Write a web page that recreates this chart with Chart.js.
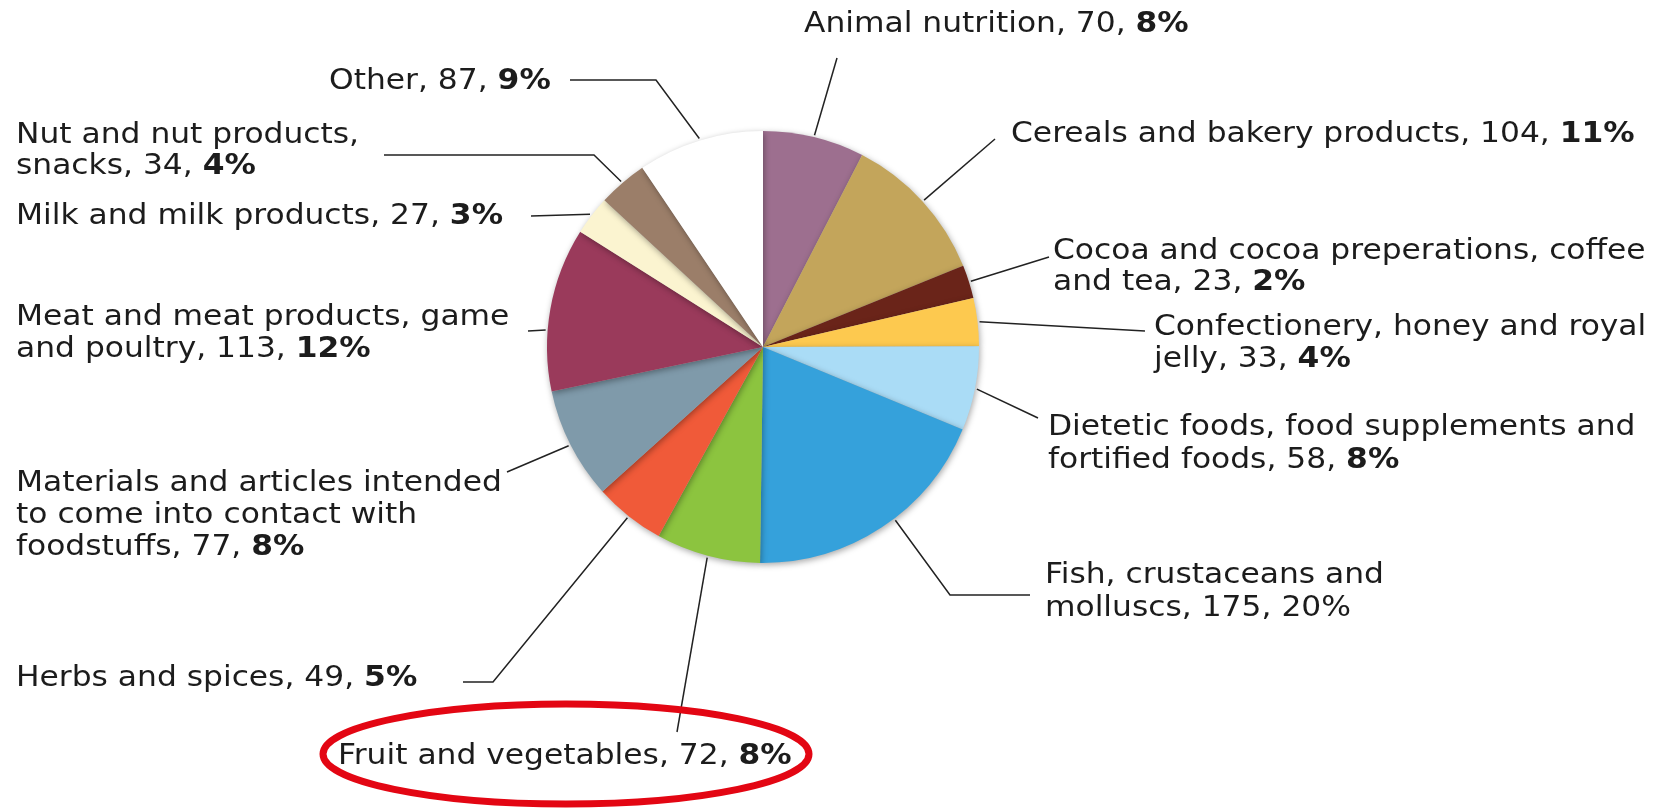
<!DOCTYPE html>
<html>
<head>
<meta charset="utf-8">
<script src="https://cdn.jsdelivr.net/npm/chart.js@4"></script>
<style>
  body { margin: 0; background: #fff; }
  canvas { display: block; }
</style>
</head>
<body>
<canvas id="pieChart" width="1655" height="808"></canvas>
<script>
// notifications per product category
var categoryLines = [
  ['Animal nutrition'],
  ['Cereals and bakery products'],
  ['Cocoa and cocoa preperations, coffee', 'and tea'],
  ['Confectionery, honey and royal', 'jelly'],
  ['Dietetic foods, food supplements and', 'fortified foods'],
  ['Fish, crustaceans and', 'molluscs'],
  ['Fruit and vegetables'],
  ['Herbs and spices'],
  ['Materials and articles intended', 'to come into contact with', 'foodstuffs'],
  ['Meat and meat products, game', 'and poultry'],
  ['Milk and milk products'],
  ['Nut and nut products,', 'snacks'],
  ['Other']
];
var counts = [70, 104, 23, 33, 58, 175, 72, 49, 77, 113, 27, 34, 87];
var shares = [8, 11, 2, 4, 8, 20, 8, 5, 8, 12, 3, 4, 9];
var boldShare = [true, true, true, true, true, false, true, true, true, true, true, true, true];

var sliceColors = [
  '#9d6f8f', '#c3a55b', '#6a2419', '#fdc94f', '#aadcf6', '#35a1db', '#8cc43f',
  '#f05a39', '#7f9aaa', '#9a3a5b', '#fbf4d0', '#9b7e69', '#ffffff'
];

// where each label sits: x of the text, y of the first line, line gap,
// extra bends of the leader line, and a small angle nudge for where it meets the pie
var labelPos = [
  { x: 804,  y: 24,  gap: 32, bends: [[837, 58]], nudge: 0 },
  { x: 1011, y: 134, gap: 32, bends: [[995, 139]], nudge: 0 },
  { x: 1053, y: 251, gap: 31, bends: [[1049, 257]], nudge: 0 },
  { x: 1154, y: 327, gap: 32, bends: [[1145, 331]], nudge: 0 },
  { x: 1048, y: 427, gap: 33, bends: [[1038, 418]], nudge: 0 },
  { x: 1045, y: 575, gap: 33, bends: [[1030, 595], [950, 595]], nudge: -4 },
  { x: 338,  y: 756, gap: 32, bends: [[677, 732]], nudge: 0 },
  { x: 16,   y: 678, gap: 32, bends: [[463, 682], [493, 682]], nudge: 0 },
  { x: 16,   y: 483, gap: 32, bends: [[507, 472]], nudge: 0 },
  { x: 16,   y: 317, gap: 32, bends: [[528, 331]], nudge: -5.7 },
  { x: 16,   y: 216, gap: 32, bends: [[531, 216]], nudge: 0 },
  { x: 16,   y: 135, gap: 31, bends: [[384, 155], [594, 155]], nudge: 0 },
  { x: 329,  y: 81,  gap: 32, bends: [[570, 80], [656, 80]], nudge: 0 }
];

var FONT = "'DejaVu Sans', Verdana, sans-serif";
var FONT_SIZE = 29;
var STRETCH = 1.08;   // a touch wider, like Verdana

var calloutPlugin = {
  id: 'callouts',
  beforeDatasetDraw: function(chart) {
    var ctx = chart.ctx;
    ctx.save();
    ctx.shadowColor = 'rgba(0,0,0,0.35)';
    ctx.shadowBlur = 6;
    ctx.shadowOffsetX = 1;
    ctx.shadowOffsetY = 2;
  },
  afterDatasetDraw: function(chart) {
    chart.ctx.restore();
  },
  afterDraw: function(chart) {
    var ctx = chart.ctx;
    var arcs = chart.getDatasetMeta(0).data;
    ctx.save();

    // leader lines
    ctx.strokeStyle = '#222';
    ctx.lineWidth = 1.5;
    arcs.forEach(function(arc, i) {
      var p = arc.getProps(['x', 'y', 'startAngle', 'endAngle', 'outerRadius'], true);
      var a = (p.startAngle + p.endAngle) / 2 + labelPos[i].nudge * Math.PI / 180;
      var r = p.outerRadius + 2;
      ctx.beginPath();
      var pts = labelPos[i].bends;
      ctx.moveTo(pts[0][0], pts[0][1]);
      for (var k = 1; k < pts.length; k++) ctx.lineTo(pts[k][0], pts[k][1]);
      ctx.lineTo(p.x + Math.cos(a) * r, p.y + Math.sin(a) * r);
      ctx.stroke();
    });

    // label text, share in bold
    ctx.fillStyle = '#1c1c1c';
    ctx.textBaseline = 'middle';
    ctx.textAlign = 'left';
    categoryLines.forEach(function(lines, i) {
      var pos = labelPos[i];
      lines.forEach(function(line, k) {
        var text = line;
        if (k === lines.length - 1) text += ', ' + counts[i] + ', ';
        ctx.save();
        ctx.translate(pos.x, pos.y + k * pos.gap);
        ctx.scale(STRETCH, 1);
        ctx.font = FONT_SIZE + 'px ' + FONT;
        ctx.fillText(text, 0, 0);
        if (k === lines.length - 1) {
          var w = ctx.measureText(text).width;
          ctx.font = (boldShare[i] ? 'bold ' : '') + FONT_SIZE + 'px ' + FONT;
          ctx.fillText(shares[i] + '%', w, 0);
        }
        ctx.restore();
      });
    });

    // red ring around the fruit and vegetables label
    ctx.strokeStyle = '#e30613';
    ctx.lineWidth = 7;
    ctx.beginPath();
    ctx.ellipse(566, 754, 243, 50, 0, 0, Math.PI * 2);
    ctx.stroke();

    ctx.restore();
  }
};

var ctx = document.getElementById('pieChart').getContext('2d');
var pieChart = new Chart(ctx, {
  type: 'pie',
  data: {
    labels: categoryLines.map(function(l) { return l.join(' '); }),
    datasets: [{
      data: counts,
      backgroundColor: sliceColors,
      borderWidth: 0
    }]
  },
  options: {
    responsive: false,
    animation: false,
    layout: {
      padding: { left: 547, right: 676, top: 131, bottom: 245 }
    },
    plugins: {
      legend: { display: false },
      tooltip: { enabled: false }
    }
  },
  plugins: [calloutPlugin]
});
</script>
</body>
</html>
